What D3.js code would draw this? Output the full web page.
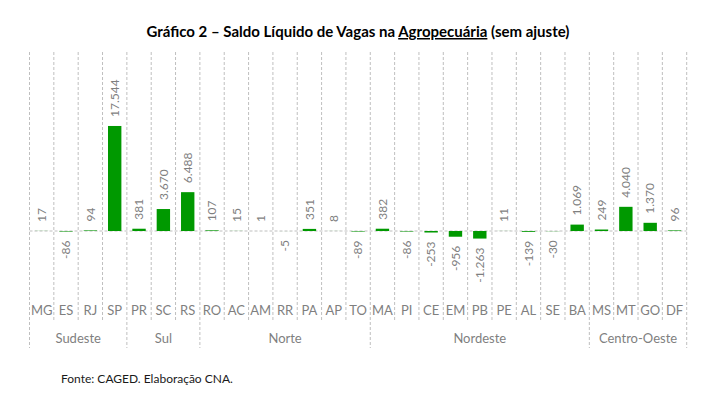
<!DOCTYPE html>
<html><head><meta charset="utf-8">
<script src="https://cdnjs.cloudflare.com/ajax/libs/d3/7.8.5/d3.min.js"></script>
<style>
body{margin:0;background:#fff;}
text{font-family:Lato,"Open Sans",sans-serif;}
</style></head>
<body><svg id="c" width="711" height="399"></svg>
<script>
const categories = ["MG","ES","RJ","SP","PR","SC","RS","RO","AC","AM","RR","PA","AP","TO","MA","PI","CE","EM","PB","PE","AL","SE","BA","MS","MT","GO","DF"];
const values = [17,-86,94,17544,381,3670,6488,107,15,1,-5,351,8,-89,382,-86,-253,-956,-1263,11,-139,-30,1069,249,4040,1370,96];
const groups = ["Sudeste","Sul","Norte","Nordeste","Centro-Oeste"];
const groupSizes = [4,3,7,9,4];

const svg = d3.select("#c");
const x = d3.scaleBand().domain(categories).range([29.5, 686.7]).paddingInner(0).paddingOuter(0);
const y = d3.scaleLinear().domain([-8000, 22000]).range([278.9, 99.3]);
const locale = d3.formatLocale({decimal:",", thousands:".", grouping:[3], currency:["R$",""], minus:"-"});
const fmt = locale.format(",d");
const gridColor = "#bfbfbf";
const labelColor = "#7f7f7f";

// title
const title = svg.append("text").attr("x", 358).attr("y", 37).attr("text-anchor","middle")
  .style("font-size","15px").style("font-weight","bold").attr("fill","#000");
title.append("tspan").text("Gráfico 2 – Saldo Líquido de Vagas na ");
title.append("tspan").text("Agropecuária").style("text-decoration","underline");
title.append("tspan").text(" (sem ajuste)");

// group boundaries
const boundaries = [0];
groupSizes.forEach((s,i)=>boundaries.push(boundaries[i]+s));
const bw = x.bandwidth();
const edgeX = i => x.range()[0] + i*bw;

// category separator gridlines
for (let i=0;i<=categories.length;i++){
  const isGroup = boundaries.includes(i);
  svg.append("line").attr("x1",edgeX(i)).attr("x2",edgeX(i))
    .attr("y1",52).attr("y2", isGroup ? 348 : 322)
    .attr("stroke",gridColor).attr("stroke-width",1).attr("stroke-dasharray","3,2");
}

// zero line
svg.append("line").attr("x1",x.range()[0]).attr("x2",x.range()[1])
  .attr("y1",y(0)).attr("y2",y(0)).attr("stroke",gridColor).attr("stroke-dasharray","3,2");

// bars
const pad = 0.225*bw;
svg.selectAll("rect.bar").data(categories).enter().append("rect")
  .attr("x", d=>x(d)+pad).attr("width", bw-2*pad)
  .attr("y", (d,i)=>Math.min(y(values[i]), y(0)))
  .attr("height", (d,i)=>Math.abs(y(values[i])-y(0)))
  .attr("fill","#009900");

// data labels
svg.selectAll("text.lbl").data(categories).enter().append("text")
  .attr("transform",(d,i)=>{
    const v = values[i];
    const cx = x(d)+bw/2;
    const yy = v>=0 ? Math.min(y(v), y(0)) - 9 : Math.max(y(v), y(0)) + 9;
    return `translate(${cx},${yy}) rotate(-90)`;
  })
  .attr("dy","0.35em")
  .attr("text-anchor",(d,i)=>values[i]>=0?"start":"end")
  .style("font-size","12px").attr("fill",labelColor)
  .text((d,i)=>fmt(values[i]));

// category labels
svg.selectAll("text.cat").data(categories).enter().append("text")
  .attr("x", d=>x(d)+bw/2).attr("y",315).attr("text-anchor","middle")
  .style("font-size","13px").attr("fill",labelColor).text(d=>d);

// group labels
groups.forEach((g,i)=>{
  const cx = (edgeX(boundaries[i])+edgeX(boundaries[i+1]))/2;
  svg.append("text").attr("x",cx).attr("y",343).attr("text-anchor","middle")
    .style("font-size","13px").attr("fill",labelColor).text(g);
});

// source
svg.append("text").attr("x",61).attr("y",383).style("font-size","12px").attr("fill","#1a1a1a")
  .text("Fonte: CAGED. Elaboração CNA.");
</script>
</body></html>
